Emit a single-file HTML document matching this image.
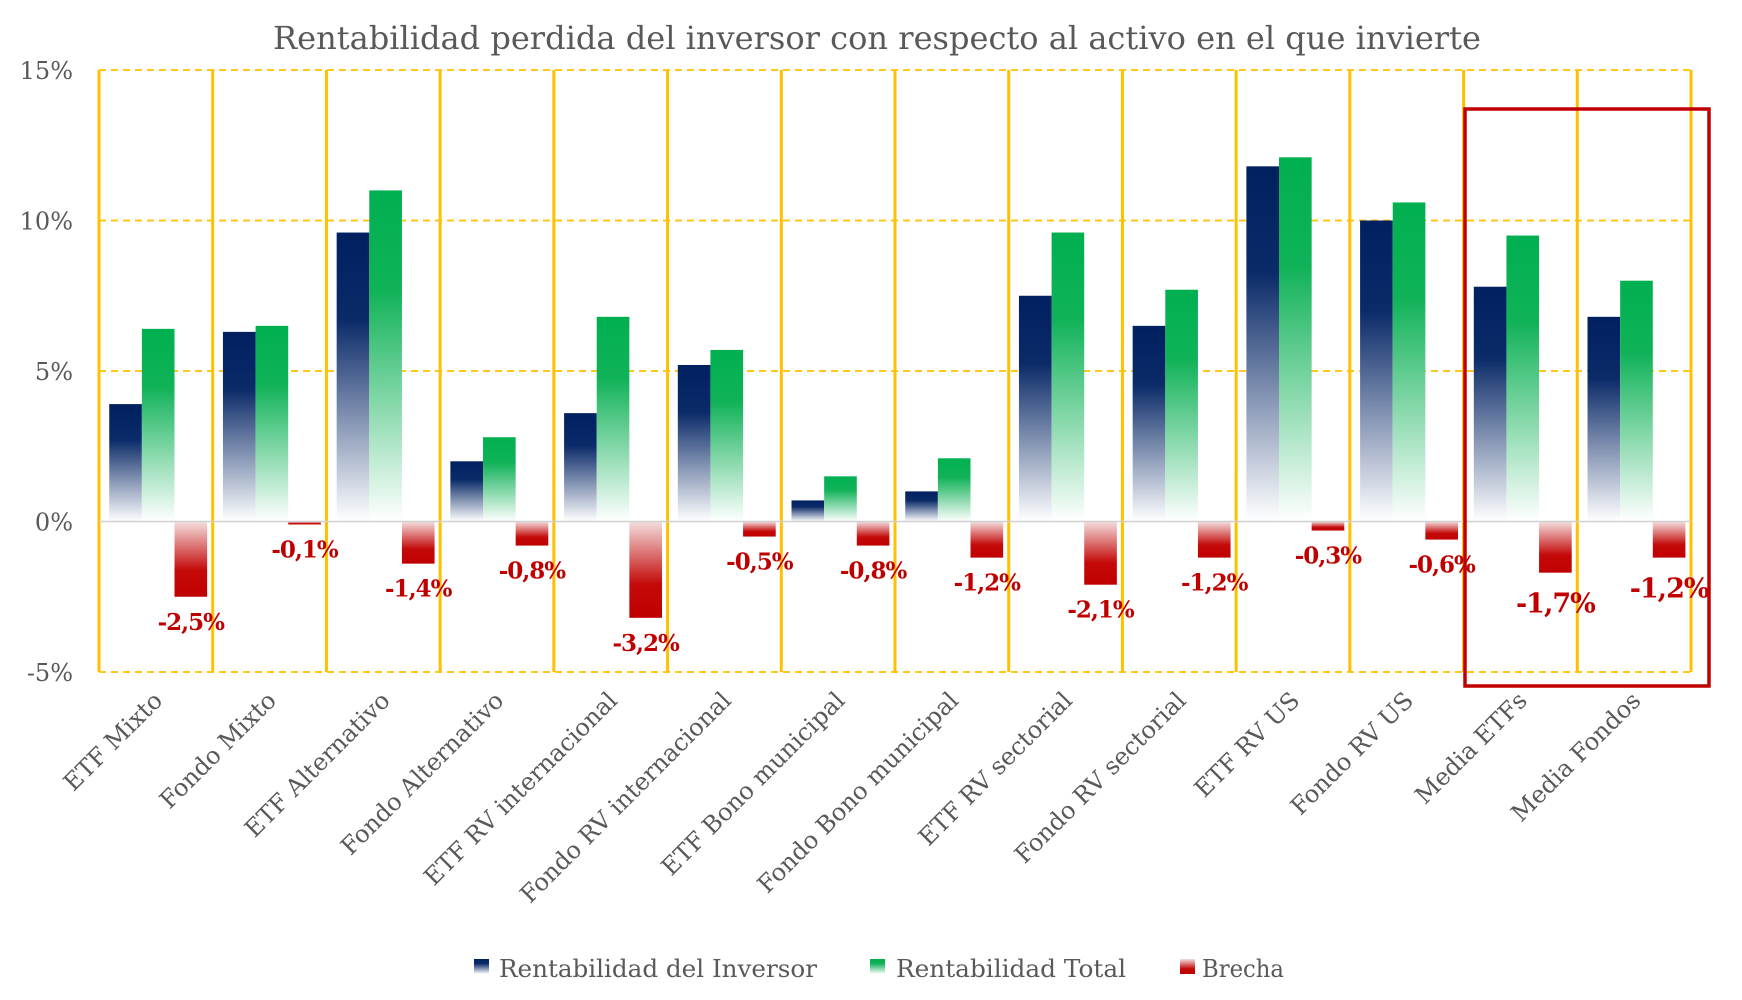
<!DOCTYPE html>
<html><head><meta charset="utf-8"><style>
html,body{margin:0;padding:0;background:#fff;width:1742px;height:1000px;overflow:hidden}
svg{display:block;font-family:"DejaVu Serif","Liberation Serif",serif}
</style></head><body>
<svg id="chart" width="1742" height="1000" viewBox="0 0 1742 1000" xmlns="http://www.w3.org/2000/svg">
<defs>
<linearGradient id="gBlue" x1="0" y1="0" x2="0" y2="1"><stop offset="0" stop-color="#002060"/><stop offset="0.3" stop-color="#0a2a68"/><stop offset="1" stop-color="#ffffff"/></linearGradient>
<linearGradient id="gGreen" x1="0" y1="0" x2="0" y2="1"><stop offset="0" stop-color="#00B050"/><stop offset="0.3" stop-color="#10b258"/><stop offset="1" stop-color="#ffffff"/></linearGradient>
<linearGradient id="gRed" x1="0" y1="1" x2="0" y2="0"><stop offset="0" stop-color="#C00000"/><stop offset="0.35" stop-color="#c40a0a"/><stop offset="1" stop-color="#f4dede"/></linearGradient>
</defs>
<text x="877" y="49" text-anchor="middle" font-size="32" fill="#595959" textLength="1208" lengthAdjust="spacingAndGlyphs">Rentabilidad perdida del inversor con respecto al activo en el que invierte</text>
<g id="grid"></g><g id="bars"></g><g id="labels"></g>
<rect x="1465" y="109" width="244" height="577" fill="none" stroke="#C00000" stroke-width="3.5"/>
<g font-size="24" fill="#595959">
<rect x="474" y="959" width="15" height="15" fill="url(#gBlue)"/>
<text x="499" y="977" textLength="318" lengthAdjust="spacingAndGlyphs">Rentabilidad del Inversor</text>
<rect x="870" y="959" width="15" height="15" fill="url(#gGreen)"/>
<text x="896" y="977" textLength="230" lengthAdjust="spacingAndGlyphs">Rentabilidad Total</text>
<rect x="1180" y="959" width="15" height="15" fill="url(#gRed)"/>
<text x="1202" y="977" textLength="82" lengthAdjust="spacingAndGlyphs">Brecha</text>
</g>
</svg>
<script>
const categories=["ETF Mixto","Fondo Mixto","ETF Alternativo","Fondo Alternativo","ETF RV internacional","Fondo RV internacional","ETF Bono municipal","Fondo Bono municipal","ETF RV sectorial","Fondo RV sectorial","ETF RV US","Fondo RV US","Media ETFs","Media Fondos"];
const inversor=[3.9,6.3,9.6,2.0,3.6,5.2,0.7,1.0,7.5,6.5,11.8,10.0,7.8,6.8];
const total=[6.4,6.5,11.0,2.8,6.8,5.7,1.5,2.1,9.6,7.7,12.1,10.6,9.5,8.0];
const brecha=[-2.5,-0.1,-1.4,-0.8,-3.2,-0.5,-0.8,-1.2,-2.1,-1.2,-0.3,-0.6,-1.7,-1.2];
const yTicks=[15,10,5,0,-5];
const yTickLabels=["15%","10%","5%","0%","-5%"];

const NS="http://www.w3.org/2000/svg";
const L=99,R=1691,T=70,B=672,yMax=15,yMin=-5;
const cw=(R-L)/categories.length;
function y(v){return T+(yMax-v)/(yMax-yMin)*(B-T);}
function x(i){return L+i*cw;}
function mk(tag,attrs,parent){const e=document.createElementNS(NS,tag);for(const k in attrs)e.setAttribute(k,attrs[k]);parent.appendChild(e);return e;}
const grid=document.getElementById('grid'),bars=document.getElementById('bars'),labels=document.getElementById('labels');
yTicks.forEach((t,i)=>{
  if(t!==0){const g=mk('line',{x1:L,x2:R,y1:y(t),y2:y(t),stroke:'#FFC000','stroke-width':1.8,'stroke-dasharray':'7 5'},grid);
  
  }
  const tx=mk('text',{x:73,y:y(t)+9,'text-anchor':'end','font-size':24,fill:'#595959'},labels);
  tx.textContent=yTickLabels[i];
  
  
});
for(let i=0;i<=categories.length;i++){
  const v=mk('line',{x1:x(i),x2:x(i),y1:T,y2:B,stroke:'#FFC000','stroke-width':3},grid);
  
  
}
const bw=cw*0.287,off=cw*0.09;
const series=[[inversor,'url(#gBlue)','inversor'],[total,'url(#gGreen)','total'],[brecha,'url(#gRed)','brecha']];
categories.forEach((c,i)=>{
  series.forEach((s,j)=>{
    const v=s[0][i];const bx=x(i)+off+j*bw;
    const y0=Math.min(y(v),y(0)),h=Math.abs(y(v)-y(0));
    const r=mk('rect',{x:bx,y:y0,width:bw,height:Math.max(h,1.5),fill:s[1]},bars);
    
    
  });
  const v=brecha[i];const cx=x(i)+off+2.5*bw;
  const big=i>=12;
  const lt=mk('text',{x:cx,y:y(v)+(big?40:33),'text-anchor':'middle','font-size':big?27:23,'font-weight':'bold',fill:'#C00000','letter-spacing':-1},labels);
  lt.textContent=v.toFixed(1).replace('.',',')+'%';
  
  
  const ax=x(i)+cw/2+8,ay=702;
  const ct=mk('text',{x:ax,y:ay,'text-anchor':'end','font-size':24,fill:'#595959',transform:`rotate(-45 ${ax} ${ay})`},labels);
  ct.textContent=c;
  
  
});
const zl=mk('line',{x1:L,x2:R,y1:y(0),y2:y(0),stroke:'#d0d0d0','stroke-width':1.5},bars);


</script>
</body></html>
